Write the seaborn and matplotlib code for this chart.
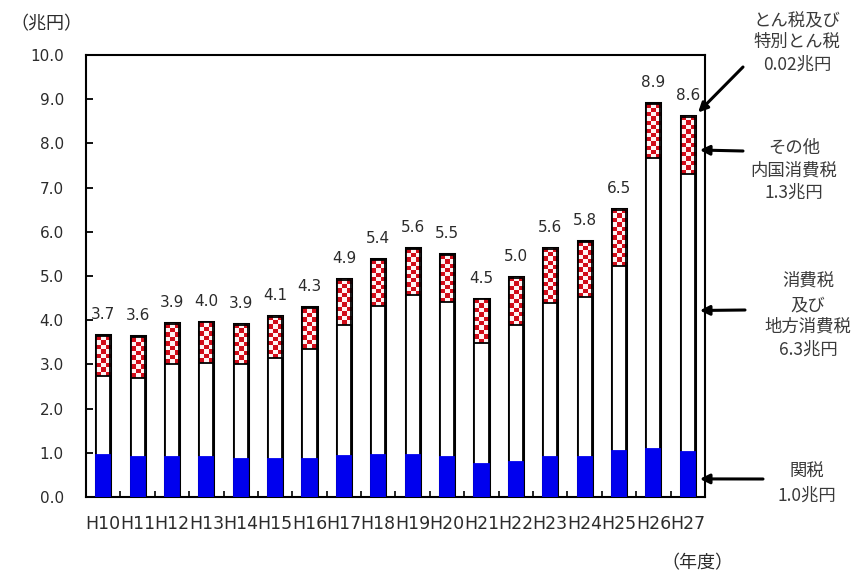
import numpy as np
import pandas as pd
import matplotlib
matplotlib.use("Agg")
import matplotlib.pyplot as plt
import seaborn as sns

# 年度別の税関収納額（兆円）
years = ["H10", "H11", "H12", "H13", "H14", "H15", "H16", "H17", "H18",
         "H19", "H20", "H21", "H22", "H23", "H24", "H25", "H26", "H27"]
customs = [0.95, 0.90, 0.90, 0.90, 0.85, 0.85, 0.86, 0.93, 0.95,
           0.95, 0.90, 0.75, 0.80, 0.90, 0.90, 1.03, 1.09, 1.02]
consumption = [1.79, 1.80, 2.10, 2.14, 2.15, 2.29, 2.49, 2.96, 3.38,
               3.62, 3.52, 2.74, 3.09, 3.48, 3.63, 4.20, 6.58, 6.28]
other_excise = [0.90, 0.92, 0.91, 0.91, 0.90, 0.94, 0.92, 1.02, 1.03,
                1.04, 1.05, 0.98, 1.07, 1.23, 1.24, 1.27, 1.22, 1.30]
tonnage = [0.02] * 18

sns.set_theme(style="white")
plt.rcParams["font.family"] = ["DejaVu Sans"]
JP = ["Noto Sans CJK JP", "DejaVu Sans"]
TXT = "#2b2b2b"

df = pd.DataFrame({"year": years, "customs": customs,
                   "consumption": consumption, "other": other_excise,
                   "tonnage": tonnage})
df["lvl_white"] = df["customs"] + df["consumption"]
df["lvl_red"] = df["lvl_white"] + df["other"]
df["total"] = df["lvl_red"] + df["tonnage"]

fig = plt.figure(figsize=(8.59, 5.74), dpi=100)
ax = fig.add_axes([0.1001, 0.1341, 0.7206, 0.7701])

W = 0.41
LW = 1.3
common = dict(data=df, x="year", width=W, saturation=1, errorbar=None, ax=ax)

# stacked layers, drawn from the tallest level down
sns.barplot(y="total", color="black", edgecolor="black", linewidth=2.2, zorder=2, **common)
sns.barplot(y="lvl_red", color="white", edgecolor="black", linewidth=LW, zorder=2, **common)

ax.set_xlim(-0.5, len(years) - 0.5)
ax.set_ylim(0, 10)

# checkered fill for the その他内国消費税 segment
red = np.array([0.82, 0.05, 0.10])
wht = np.array([1.0, 0.96, 0.96])
px_per_y = ax.bbox.height / 10.0
cell = 4.3
for i in range(len(years)):
    y0, y1 = df["lvl_white"][i], df["lvl_red"][i]
    rows = max(2, int(round((y1 - y0) * px_per_y / cell)))
    cols = 3
    rr, cc = np.indices((rows, cols))
    mask = ((rr + cc) % 2 == 0)
    img = np.where(mask[..., None], red, wht)
    ax.imshow(img, extent=[i - W / 2, i + W / 2, y0, y1], aspect="auto",
              interpolation="nearest", origin="upper", zorder=2.5)

sns.barplot(y="lvl_red", fill=False, color="black", linewidth=LW, zorder=2.6, **common)
sns.barplot(y="lvl_white", color="white", edgecolor="black", linewidth=LW, zorder=3, **common)
sns.barplot(y="customs", color="#0000EE", edgecolor="#0000EE", linewidth=LW, zorder=3, **common)

ax.set_xlim(-0.5, len(years) - 0.5)
ax.set_ylim(0, 10)
ax.set_aspect("auto")
ax.set_xlabel("")
ax.set_ylabel("")

# totals above bars
for i, t in enumerate(df["total"]):
    ax.annotate(f"{t:.1f}", (i, t), xytext=(0, 11.5), textcoords="offset points",
                ha="center", va="baseline", fontsize=11, color=TXT)

# axes styling
for s in ax.spines.values():
    s.set_visible(True)
    s.set_color("black")
    s.set_linewidth(1.5)
ax.set_yticks(np.arange(0, 11, 1))
ax.set_yticklabels([f"{v:.1f}" for v in range(0, 11)])
ax.tick_params(axis="y", direction="in", length=5, width=1.3, pad=16,
               labelsize=11, labelcolor=TXT, left=True, color="black")
ax.set_xticks(range(len(years)))
ax.set_xticklabels(years)
ax.tick_params(axis="x", which="major", length=0, pad=13, labelsize=12.5, labelcolor=TXT)
ax.set_xticks(np.arange(0.5, len(years) - 1, 1), minor=True)
ax.tick_params(axis="x", which="minor", direction="in", length=4, width=1.2,
               bottom=True, color="black")
ax.grid(False)

# unit captions
fig.text(10 / 859, 1 - 24 / 574, "（兆円）", ha="left", va="center",
         fontsize=13, family=JP, color=TXT)
fig.text(697 / 859, 1 - 563 / 574, "（年度）", ha="center", va="center",
         fontsize=13, family=JP, color=TXT)

# call-outs for H27
last = len(years) - 1
tip_x = last + 0.35
callouts = [
    (["とん税及び", "特別とん税", "0.02兆円"], 797, [21, 42, 65],
     (743, 67), (tip_x - 0.05, df["total"][last] + 0.08)),
    (["その他", "内国消費税", "1.3兆円"], 794, [148, 171, 193],
     (743, 151), (tip_x, (df["lvl_white"][last] + df["lvl_red"][last]) / 2 - 0.1)),
    (["消費税", "及び", "地方消費税", "6.3兆円"], 808, [281, 305, 327, 350],
     (745, 310), (tip_x, df["customs"][last] + df["consumption"][last] / 2 + 0.06)),
    (["関税", "1.0兆円"], 807, [472, 496],
     (763, 479), (tip_x, df["customs"][last] / 2 - 0.1)),
]
for lines, cx, ys, tail, tip in callouts:
    for ln, yy in zip(lines, ys):
        fig.text(cx / 859, 1 - yy / 574, ln, ha="center", va="center",
                 fontsize=12.5, family=JP, color="#3a3a3a")
    ax.annotate("", xy=tip, xycoords="data",
                xytext=(tail[0] / 859, 1 - tail[1] / 574), textcoords="figure fraction",
                arrowprops=dict(arrowstyle="-|>", color="black", lw=2.2,
                                mutation_scale=14, shrinkA=0, shrinkB=0),
                annotation_clip=False)

fig.savefig("out.png", dpi=100)
